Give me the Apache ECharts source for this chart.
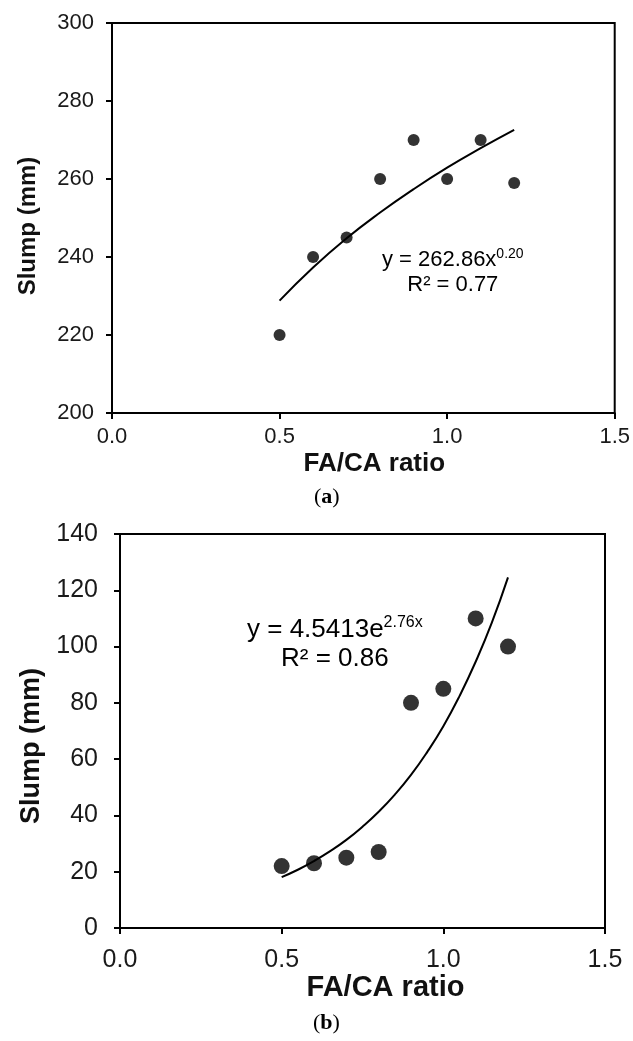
<!DOCTYPE html>
<html>
<head>
<meta charset="utf-8">
<script src="https://cdn.jsdelivr.net/npm/echarts@6/dist/echarts.min.js"></script>
<style>
  html, body {margin: 0; padding: 0; background: #fff;}
  #chart {width: 633px; height: 1041px;}
</style>
</head>
<body>
<div id="chart"></div>
<script>
const ratios = [0.5, 0.6, 0.7, 0.8, 0.9, 1.0, 1.1, 1.2];

// (a) slump values and the power trendline
const slumpA = [220, 240, 245, 260, 270, 260, 270, 259];
const trendXA = [0.5, 0.6, 0.7, 0.8, 0.9, 1.0, 1.1, 1.2];
const trendA = [228.8, 237.3, 244.8, 251.4, 257.4, 262.9, 267.9, 272.6];

// (b) slump values and the exponential trendline
const slumpB = [22, 23, 25, 27, 80, 85, 110, 100];
const trendXB = [0.5, 0.55, 0.6, 0.65, 0.7, 0.75, 0.8, 0.85, 0.9, 0.95, 1.0, 1.05, 1.1, 1.15, 1.2];
const trendB = [18.1, 20.7, 23.8, 27.3, 31.3, 36.0, 41.3, 47.4, 54.4, 62.5, 71.7, 82.4, 94.6, 108.5, 124.6];

const xTicks = [0, 1.5, 0.5];
const yTicksA = [200, 300, 20];
const yTicksB = [0, 140, 20];

const zip = (xs, ys) => xs.map((x, i) => [x, ys[i]]);

function xAxis(gridIndex, fontSize, margin, nameSize, nameGap, shift) {
  return {
    gridIndex,
    type: 'value',
    min: xTicks[0],
    max: xTicks[1],
    interval: xTicks[2],
    name: 'FA/CA ratio',
    nameLocation: 'middle',
    nameGap,
    nameTextStyle: {
      fontFamily: 'Liberation Sans', fontWeight: 'bold', fontSize: nameSize, color: '#111',
      padding: [0, 0, 0, shift]
    },
    axisLine: {lineStyle: {color: '#000', width: 2}},
    axisTick: {show: true, inside: false, length: 6, lineStyle: {color: '#000', width: 2}},
    axisLabel: {
      fontFamily: 'Liberation Sans', fontSize, color: '#1a1a1a', margin,
      formatter: (v) => v.toFixed(1)
    },
    splitLine: {show: false}
  };
}

function yAxis(gridIndex, ticks, fontSize, margin, nameSize, nameGap, shift) {
  return {
    gridIndex,
    type: 'value',
    min: ticks[0],
    max: ticks[1],
    interval: ticks[2],
    name: 'Slump (mm)',
    nameLocation: 'middle',
    nameGap,
    nameTextStyle: {
      fontFamily: 'Liberation Sans', fontWeight: 'bold', fontSize: nameSize, color: '#111',
      padding: [0, shift, 0, 0]
    },
    axisLine: {show: true, lineStyle: {color: '#000', width: 2}},
    axisTick: {show: true, inside: false, length: 6, lineStyle: {color: '#000', width: 2}},
    axisLabel: {fontFamily: 'Liberation Sans', fontSize, color: '#1a1a1a', margin},
    splitLine: {show: false}
  };
}

function caption(letter, x, y) {
  return {
    type: 'text',
    left: x,
    top: y,
    style: {
      text: `{p|(}{b|${letter}}{p|)}`,
      rich: {
        p: {fontFamily: 'Liberation Serif', fontSize: 22, color: '#111'},
        b: {fontFamily: 'Liberation Serif', fontSize: 22, fontWeight: 'bold', color: '#111'}
      }
    }
  };
}

function equation(lines, x, y, fontSize, supSize, lineHeight, color) {
  return {
    type: 'text',
    left: x,
    top: y,
    style: {
      text: lines,
      align: 'center',
      lineHeight,
      rich: {
        n: {fontFamily: 'Liberation Sans', fontSize, color, lineHeight, align: 'center'},
        s: {fontFamily: 'Liberation Sans', fontSize: supSize, color,
            lineHeight, padding: [0, 0, Math.round(fontSize * 0.55), 0]}
      }
    }
  };
}

const chart = echarts.init(document.getElementById('chart'), null, {renderer: 'canvas'});

chart.setOption({
  animation: false,
  backgroundColor: '#fff',
  grid: [
    {left: 112, right: 17, top: 23, height: 390, show: true, borderColor: '#000', borderWidth: 2},
    {left: 120, right: 28, top: 534, height: 394, show: true, borderColor: '#000', borderWidth: 2}
  ],
  xAxis: [xAxis(0, 22, 13, 26, 38, 22), xAxis(1, 25, 20, 29, 42, 46)],
  yAxis: [yAxis(0, yTicksA, 22, 18, 24, 72, 16), yAxis(1, yTicksB, 25, 22, 27, 68, 30)],
  series: [
    {
      type: 'line', xAxisIndex: 0, yAxisIndex: 0,
      data: zip(trendXA, trendA), smooth: true, showSymbol: false,
      lineStyle: {color: '#000', width: 2}, z: 2
    },
    {
      type: 'scatter', xAxisIndex: 0, yAxisIndex: 0,
      data: zip(ratios, slumpA), symbolSize: 12,
      itemStyle: {color: '#000'}, z: 3
    },
    {
      type: 'line', xAxisIndex: 1, yAxisIndex: 1,
      data: zip(trendXB, trendB), smooth: true, showSymbol: false,
      lineStyle: {color: '#000', width: 2}, z: 2
    },
    {
      type: 'scatter', xAxisIndex: 1, yAxisIndex: 1,
      data: zip(ratios, slumpB), symbolSize: 16,
      itemStyle: {color: '#000'}, z: 3
    }
  ],
  graphic: [
    equation('{n|y = 262.86x}{s|0.20}\n{n|R² = 0.77}', 382, 247, 22, 14, 25, '#3a3a3a'),
    equation('{n|y = 4.5413e}{s|2.76x}\n{n|R² = 0.86}', 247, 615, 26, 16, 29, '#111'),
    caption('a', 314, 486),
    caption('b', 313, 1012)
  ]
});
</script>
</body>
</html>
